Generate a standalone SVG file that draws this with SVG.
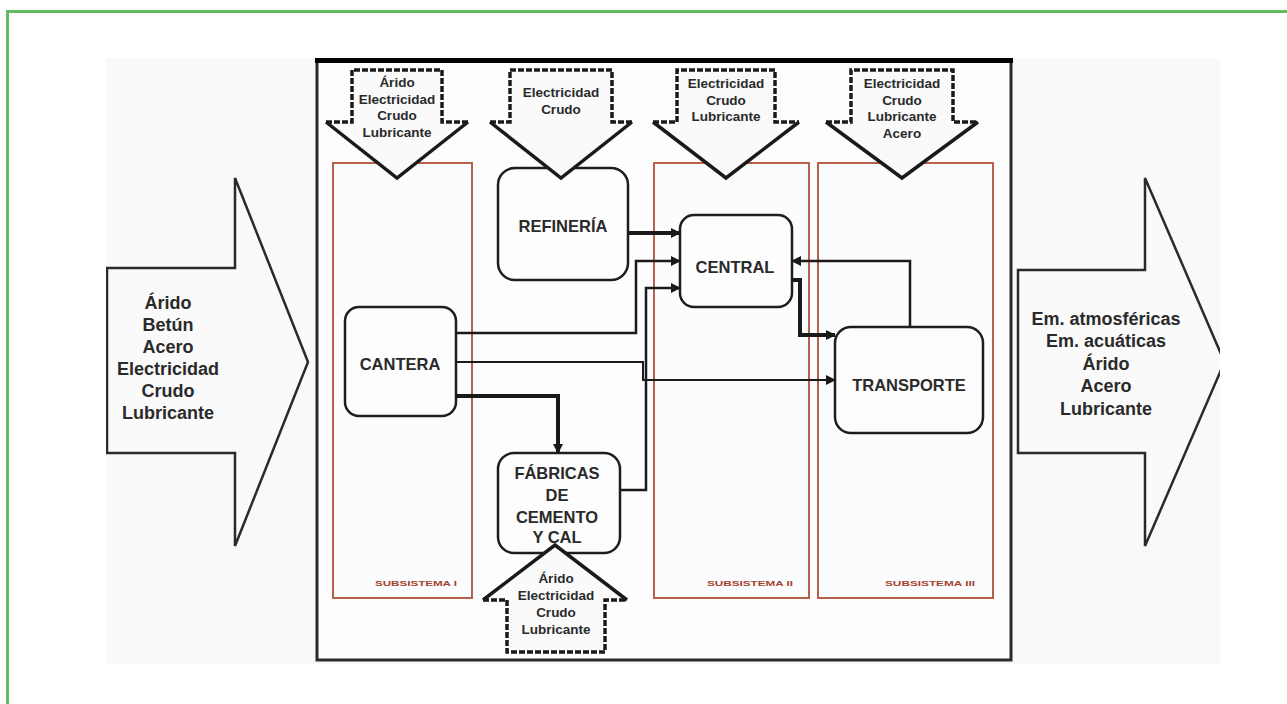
<svg xmlns="http://www.w3.org/2000/svg" width="1287" height="704" viewBox="0 0 1287 704">
  <style>
    text { font-family: "Liberation Sans", Arial, sans-serif; fill: #2a2a2a; text-anchor: middle; }
    .big { font-size: 18px; font-weight: bold; }
    .small { font-size: 13.5px; font-weight: bold; }
    .node-label { font-size: 16.5px; font-weight: bold; }
    .sub-label { font-size: 8px; font-weight: bold; fill: #a4432f; }
    .node { fill: #fdfdfd; stroke: #1e1e1e; stroke-width: 2.5; }
    .subsystem { fill: #fbfcfd; stroke: #b9604a; stroke-width: 2; }
    .bigarrow { fill: #fafafa; stroke: #2a2a2a; stroke-width: 2.5; stroke-linejoin: miter; }
    .shaft { fill: none; stroke: #1a1a1a; stroke-width: 3.5; stroke-dasharray: 6 2; }
    .head { fill: none; stroke: #1a1a1a; stroke-width: 3.5; stroke-linejoin: miter; }
    .fill-arrow { fill: #fafafa; stroke: none; }
    .wire { fill: none; stroke: #1a1a1a; stroke-width: 2.5; }
    .wire-thick { fill: none; stroke: #1a1a1a; stroke-width: 4; }
    .wire-thin { fill: none; stroke: #1a1a1a; stroke-width: 2; }
  </style>
  <defs>
    <marker id="arrow" viewBox="0 0 10 10" refX="9" refY="5" markerWidth="10" markerHeight="10" markerUnits="userSpaceOnUse" orient="auto">
      <path d="M0,0 L10,5 L0,10 z" fill="#1a1a1a"/>
    </marker>
    <clipPath id="panel">
      <rect x="106" y="58" width="1114" height="606"/>
    </clipPath>
  </defs>

  <!-- page background and frame -->
  <rect x="0" y="0" width="1287" height="704" fill="#ffffff"/>
  <rect x="7.5" y="11.5" width="1300" height="720" fill="none" stroke="#63bb5f" stroke-width="3"/>

  <!-- light panel -->
  <rect x="106" y="58" width="1114" height="606" fill="#f9f9f9"/>

  <!-- system boundary -->
  <rect x="317" y="60" width="694" height="600" fill="#fdfdfd" stroke="#2a2a2a" stroke-width="3"/>
  <line x1="315" y1="60.5" x2="1013" y2="60.5" stroke="#000" stroke-width="5"/>

  <!-- inputs to the system -->
  <g id="input-arrow" clip-path="url(#panel)">
    <polygon class="bigarrow" points="107,268 235,268 235,178 308,362 235,546 235,453 107,453"/>
    <text class="big" x="168" y="308.5">Árido</text>
    <text class="big" x="168" y="330.5">Betún</text>
    <text class="big" x="168" y="352.5">Acero</text>
    <text class="big" x="168" y="374.5">Electricidad</text>
    <text class="big" x="168" y="396.5">Crudo</text>
    <text class="big" x="168" y="418.5">Lubricante</text>
  </g>

  <!-- outputs of the system -->
  <g id="output-arrow" clip-path="url(#panel)">
    <polygon class="bigarrow" points="1018,270 1145,270 1145,178 1224.5,362 1145,546 1145,453 1018,453"/>
    <text class="big" x="1106" y="324.5">Em. atmosféricas</text>
    <text class="big" x="1106" y="347">Em. acuáticas</text>
    <text class="big" x="1106" y="369.5">Árido</text>
    <text class="big" x="1106" y="392">Acero</text>
    <text class="big" x="1106" y="414.5">Lubricante</text>
  </g>

  <!-- subsystems -->
  <g id="subsystem-1">
    <rect class="subsystem" x="333" y="163" width="139" height="435"/>
    <text class="sub-label" x="416" y="586" textLength="82" lengthAdjust="spacingAndGlyphs">SUBSISTEMA I</text>
  </g>
  <g id="subsystem-2">
    <rect class="subsystem" x="654" y="163" width="155" height="435"/>
    <text class="sub-label" x="750" y="586" textLength="86" lengthAdjust="spacingAndGlyphs">SUBSISTEMA II</text>
  </g>
  <g id="subsystem-3">
    <rect class="subsystem" x="818" y="163" width="175" height="435"/>
    <text class="sub-label" x="930" y="586" textLength="90" lengthAdjust="spacingAndGlyphs">SUBSISTEMA III</text>
  </g>

  <!-- process nodes -->
  <g id="refineria">
    <rect class="node" x="498" y="168" width="130" height="112" rx="17"/>
    <text class="node-label" x="563" y="232">REFINERÍA</text>
  </g>
  <g id="central">
    <rect class="node" x="680" y="215" width="112" height="92" rx="14"/>
    <text class="node-label" x="735" y="273">CENTRAL</text>
  </g>
  <g id="cantera">
    <rect class="node" x="345" y="307" width="111" height="109" rx="14"/>
    <text class="node-label" x="400" y="370">CANTERA</text>
  </g>
  <g id="transporte">
    <rect class="node" x="835" y="327" width="148" height="106" rx="16"/>
    <text class="node-label" x="909" y="391">TRANSPORTE</text>
  </g>
  <g id="fabricas">
    <rect class="node" x="498" y="453" width="122" height="100" rx="16"/>
    <text class="node-label" x="557" y="479">FÁBRICAS</text>
    <text class="node-label" x="557" y="501">DE</text>
    <text class="node-label" x="557" y="523">CEMENTO</text>
    <text class="node-label" x="557" y="543">Y CAL</text>
  </g>

  <!-- flows between nodes -->
  <g id="connectors">
    <path class="wire-thick" d="M628,233 H680" marker-end="url(#arrow)"/>
    <path class="wire" d="M456,333 H636 V261 H680" marker-end="url(#arrow)"/>
    <path class="wire" d="M620,490 H646 V288 H680" marker-end="url(#arrow)"/>
    <path class="wire-thin" d="M456,362 H643 V380 H835" marker-end="url(#arrow)"/>
    <path class="wire-thick" d="M456,396 H558 V453" marker-end="url(#arrow)"/>
    <path class="wire-thick" d="M792,280 H800 V335 H835" marker-end="url(#arrow)"/>
    <path class="wire" d="M910,327 V261 H792" marker-end="url(#arrow)"/>
  </g>

  <!-- external supplies to each subsystem -->
  <g id="supply-1">
    <polygon class="fill-arrow" points="352,70 442,70 442,122 468,122 397,178 326,122 352,122"/>
    <polyline class="shaft" points="326,122 352,122 352,70 442,70 442,122 468,122"/>
    <polyline class="head" points="326,122 397,178 468,122"/>
    <text class="small" x="397" y="87">Árido</text>
    <text class="small" x="397" y="103.5">Electricidad</text>
    <text class="small" x="397" y="120">Crudo</text>
    <text class="small" x="397" y="136.5">Lubricante</text>
  </g>
  <g id="supply-2">
    <polygon class="fill-arrow" points="510,70 612,70 612,122 632,122 561,178 490,122 510,122"/>
    <polyline class="shaft" points="490,122 510,122 510,70 612,70 612,122 632,122"/>
    <polyline class="head" points="490,122 561,178 632,122"/>
    <text class="small" x="561" y="97">Electricidad</text>
    <text class="small" x="561" y="114">Crudo</text>
  </g>
  <g id="supply-3">
    <polygon class="fill-arrow" points="677,70 775,70 775,122 799,122 726,178 653,122 677,122"/>
    <polyline class="shaft" points="653,122 677,122 677,70 775,70 775,122 799,122"/>
    <polyline class="head" points="653,122 726,178 799,122"/>
    <text class="small" x="726" y="88">Electricidad</text>
    <text class="small" x="726" y="104.5">Crudo</text>
    <text class="small" x="726" y="121">Lubricante</text>
  </g>
  <g id="supply-4">
    <polygon class="fill-arrow" points="851,70 953,70 953,122 978,122 902,178 826,122 851,122"/>
    <polyline class="shaft" points="826,122 851,122 851,70 953,70 953,122 978,122"/>
    <polyline class="head" points="826,122 902,178 978,122"/>
    <text class="small" x="902" y="88">Electricidad</text>
    <text class="small" x="902" y="104.5">Crudo</text>
    <text class="small" x="902" y="121">Lubricante</text>
    <text class="small" x="902" y="137.5">Acero</text>
  </g>
  <g id="supply-fabricas">
    <polygon class="fill-arrow" points="507,652 605,652 605,600 627,600 555,545 483,600 507,600"/>
    <polyline class="shaft" points="483,600 507,600 507,652 605,652 605,600 627,600"/>
    <polyline class="head" points="483,600 555,545 627,600"/>
    <text class="small" x="556" y="583">Árido</text>
    <text class="small" x="556" y="600">Electricidad</text>
    <text class="small" x="556" y="617">Crudo</text>
    <text class="small" x="556" y="634">Lubricante</text>
  </g>
</svg>
